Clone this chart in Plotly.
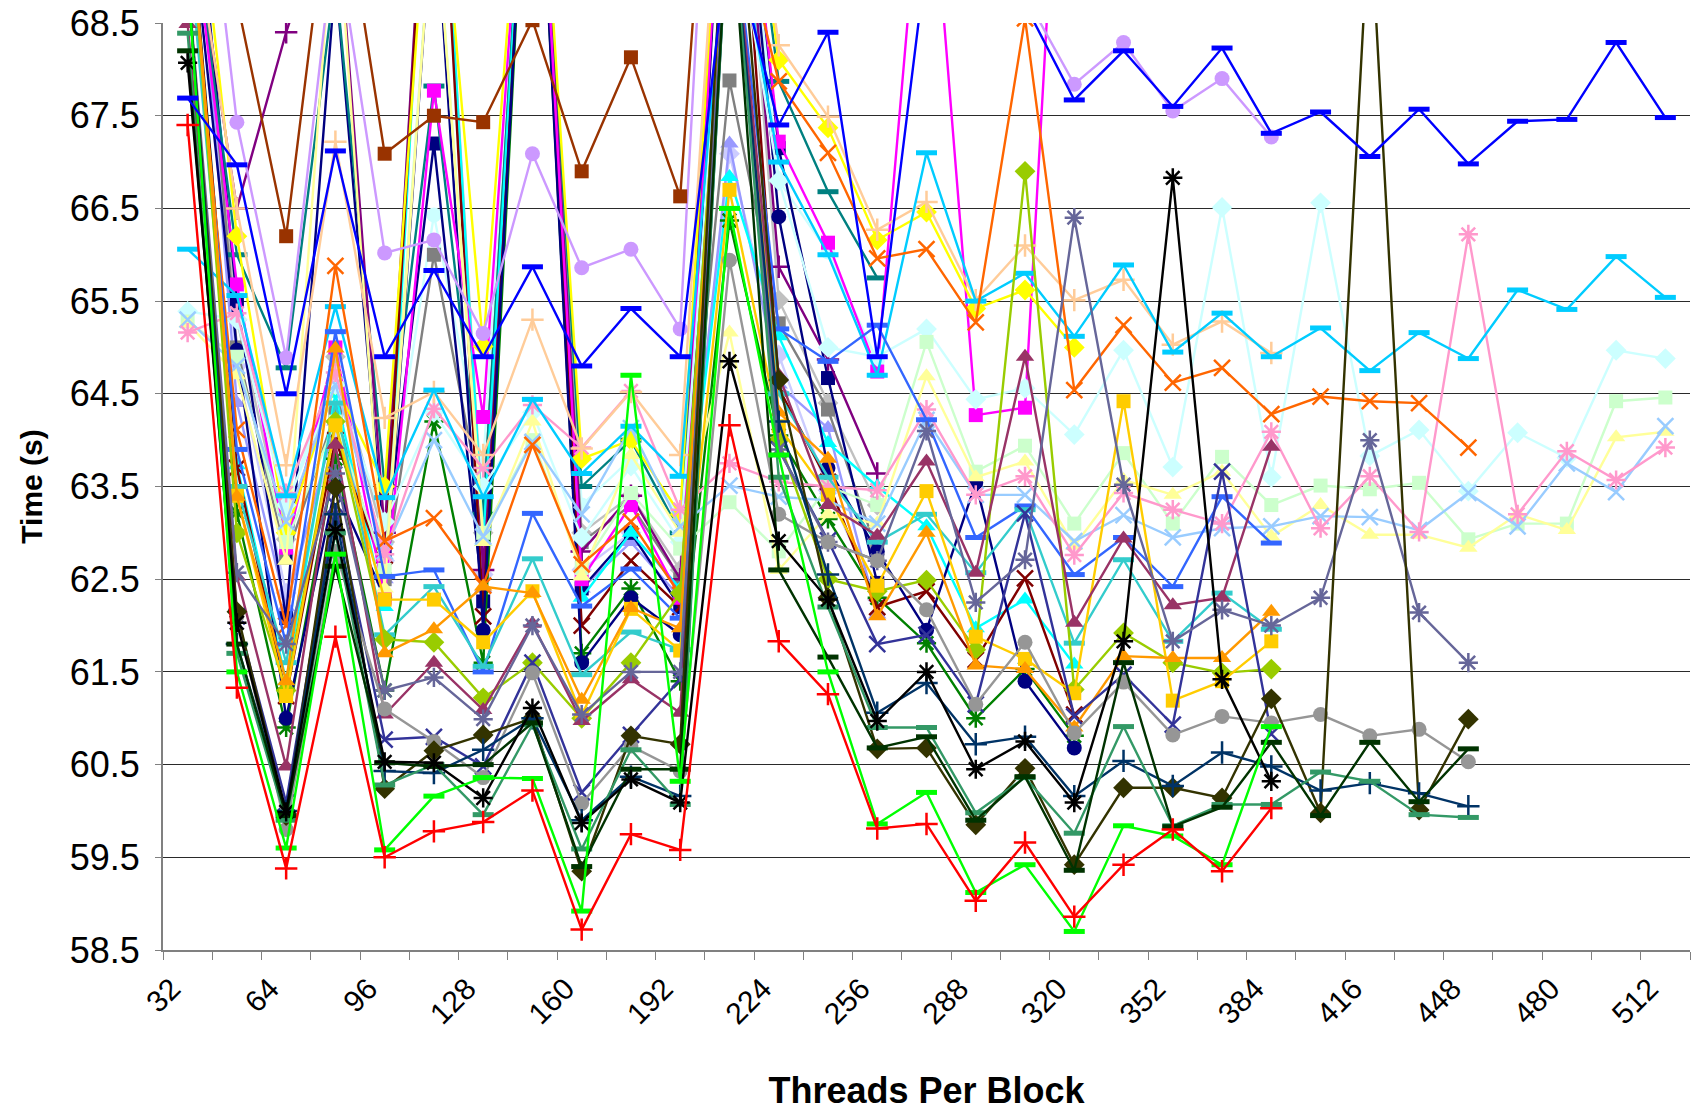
import plotly.graph_objects as go

N = None
threads = [32, 48, 64, 80, 96, 112, 128, 144, 160, 176, 192, 208, 224, 240, 256, 272,
           288, 304, 320, 336, 352, 368, 384, 400, 416, 432, 448, 464, 480, 496, 512]
x_tick_labels = [32, 64, 96, 128, 160, 192, 224, 256, 288, 320, 352, 384, 416, 448, 480, 512]
y_tick_values = [58.5, 59.5, 60.5, 61.5, 62.5, 63.5, 64.5, 65.5, 66.5, 67.5, 68.5]

# ---- series values (seconds), one list per series; None = no data ----
lightcyan_circle = [71.0, 65.6, 63.27, 64.8, 63.0, 66.43, 63.73, 72.0, 63.3, 63.8, 63.2, 72.0, 66.8, 66.03, 64.85]
silver_diamond = [71.0, 65.3, 62.93, 64.9, 62.9, 72.0, 63.0, 72.0, 63.0, 63.4, 62.6, 72.0, 65.51, 64.4, 63.3]
lavblue_diamond = [71.0, 64.8, 62.35, 64.0, 62.7, 72.0, 62.55, 72.0, 62.6, 63.0, 62.4, 67.09, 64.92, 63.46, 62.28]
periwinkle_tri = [71.0, 64.4, 62.2, 64.2, 62.5, 72.0, 62.4, 72.0, 62.4, 62.9, 62.3, 67.2, 64.6, 64.13, 62.12]
gray_square = [71.0, 65.0, 62.73, 64.3, 62.5, 66.0, 63.22, 72.0, 62.9, 63.3, 62.5, 67.88, 65.26, 64.33, 62.8]
navy_square = [71.0, 65.5, 62.08, 69.0, 62.8, 67.2, 62.26, 72.0, 62.4, 63.0, 62.2, 72.0, 67.15, 64.67, 62.46]
teal_dash = [70.0, 66.0, 64.78, 69.0, 63.5, 67.82, 63.2, 72.0, 63.5, 64.0, 63.0, 72.0, 67.87, 66.68, 65.75]
purple_plus = [70.0, 66.5, 68.4, 70.0, 63.0, 72.0, 62.6, 72.0, 62.8, 63.4, 62.5, 72.0, 65.87, 64.87, 63.64]
cyan_tri = [70.0, 63.73, 61.4, 64.5, 62.2, 72.0, 62.9, 72.0, 62.3, 63.0, 62.4, 66.84, 65.12, 63.97, 63.5,
            63.07, 61.97, 62.28, 61.58]
green_star = [70.0, 63.22, 60.9, 63.8, 61.3, 64.2, 61.6, 72.0, 61.7, 62.4, 61.4, 66.37, 64.05, 63.15, 62.3,
              61.81, 61.0, 61.53, 60.81]
maroon_x = [70.0, 63.7, 61.24, 64.0, 62.6, 72.0, 62.1, 72.0, 62.0, 62.7, 62.2, 72.0, 64.56, 63.55, 62.2,
            62.37, 61.63, 62.51, 61.04]
navy_circle = [70.0, 64.97, 61.0, 63.5, 62.3, 70.0, 61.95, 72.0, 61.6, 62.3, 61.9, 72.0, 66.41, 63.7, 62.8,
               61.95, 63.54, 61.4, 60.68]
magenta_square = [70.0, 65.68, 62.84, 65.0, 62.3, 67.77, 64.25, 72.0, 62.5, 63.3, 62.3, 72.0, 67.22, 66.13, 64.74,
                  70.87, 64.27, 64.35, 73.8]
yellow_diamond = [71.0, 66.2, 63.0, 64.6, 63.5, 71.0, 65.01, 72.0, 63.8, 64.0, 63.2, 72.0, 68.1, 67.37, 66.16,
                  66.46, 65.42, 65.62, 65.0]
lightcyan_diamond = [65.39, 65.3, 63.3, 64.6, 63.12, 64.3, 63.5, 64.3, 62.95, 63.72, 62.9, 70.0, 66.8, 65.0, 64.9,
                     65.2, 64.44, 64.56, 64.06, 64.97, 63.71, 66.51, 63.6, 66.56, 63.83, 64.11, 63.45, 64.08, 63.81,
                     64.97, 64.88]
lightgreen_square = [65.28, 64.9, 62.9, 64.2, 62.6, 70.0, 63.0, 64.0, 62.62, 63.43, 62.83, 63.33, 62.8, 63.5, 63.3,
                     65.06, 63.66, 63.94, 63.1, 63.86, 63.1, 63.82, 63.3, 63.51, 63.47, 63.54, 62.93, 63.1, 63.1,
                     64.42, 64.46]
lightyellow_tri = [65.26, 64.7, 62.7, 70.0, 62.4, 70.0, 62.9, 64.2, 62.53, 63.84, 63.0, 65.16, 62.6, 63.2, 63.1,
                   64.69, 63.6, 63.77, 62.86, 63.57, 63.41, 63.66, 62.96, 63.3, 62.98, 62.98, 62.84, 63.2, 63.03,
                   64.03, 64.09]
lightblue_x = [65.3, 64.8, 63.12, 64.6, 62.8, 64.0, 62.96, 63.98, 63.2, 64.13, 63.07, 63.51, 63.39, 63.35, 63.1,
               64.22, 63.41, 63.41, 62.91, 63.19, 62.95, 63.05, 63.07, 63.18, 63.17, 63.03, 63.43, 63.07, 63.75,
               63.44, 64.15]
pink_star = [65.16, 65.37, 63.43, 64.73, 62.77, 64.34, 63.7, 64.38, 63.92, 64.53, 63.25, 63.75, 63.55, 63.5, 63.46,
             64.33, 63.41, 63.61, 62.76, 63.43, 63.25, 63.1, 64.09, 63.05, 63.61, 63.01, 66.22, 63.2, 63.88,
             63.57, 63.92]
peach_plus = [70.0, 66.5, 63.73, 67.22, 64.24, 64.52, 63.84, 65.3, 63.91, 64.52, 63.84, 72.0, 68.26, 67.49, 66.27,
              66.57, 65.51, 66.1, 65.51, 65.73, 65.03, 65.28, 64.94]
lavender_circle = [72.0, 67.43, 64.89, 69.5, 66.02, 66.16, 65.15, 67.09, 65.86, 66.06, 65.2, 75.0, 72.0, 72.0, 72.0,
                   72.0, 72.0, 68.8, 67.84, 68.29, 67.55, 67.9, 67.27]
brown_square = [71.0, 68.75, 66.2, 70.5, 67.09, 67.5, 67.43, 68.53, 66.9, 68.13, 66.63, 74.0]
skyblue_dash = [66.06, 65.56, 63.4, 65.44, 63.38, 64.54, 63.39, 64.44, 63.64, 64.15, 63.61, 70.0, 67.0, 66.0, 64.7,
                67.1, 65.5, 65.8, 65.12, 65.89, 64.95, 65.37, 64.9, 65.21, 64.75, 65.16, 64.88, 65.62, 65.41,
                65.98, 65.54]
orangered_x = [69.5, 64.11, 62.0, 65.88, 62.91, 63.16, 62.43, 63.95, 62.66, 63.12, 62.33, 70.0, 67.87, 67.1, 65.96,
               66.06, 65.27, 68.55, 64.54, 65.24, 64.62, 64.78, 64.28, 64.47, 64.42, 64.4, 63.92]
royal_dash = [69.5, 63.9, 61.8, 65.17, 62.53, 62.6, 61.5, 63.21, 62.21, 62.61, 62.08, 70.0, 65.2, 64.85, 65.24,
              64.22, 62.95, 63.29, 62.55, 62.95, 62.42, 63.39, 62.89]
teal2_dash = [69.5, 63.5, 61.6, 64.4, 61.9, 62.42, 61.56, 62.72, 61.47, 61.93, 61.74, 70.0, 64.5, 63.6, 62.9,
              63.2, 62.57, 63.25, 61.81, 62.71, 61.83, 62.35, 61.96]
yellowgreen_diamond = [70.0, 63.0, 61.3, 64.2, 61.85, 61.82, 61.22, 61.6, 61.0, 61.6, 62.35, 70.0, 64.0, 62.5, 62.37,
                       62.49, 61.74, 66.9, 61.31, 61.92, 61.6, 61.49, 61.53]
gold_square = [70.0, 63.4, 61.24, 64.16, 62.28, 62.28, 61.82, 62.37, 61.03, 62.18, 61.73, 66.7, 64.15, 63.41, 62.43,
               63.45, 61.88, 61.64, 61.27, 64.42, 61.19, 61.4, 61.83]
orange_tri = [70.0, 63.39, 61.4, 64.99, 61.7, 61.96, 62.42, 62.35, 61.2, 62.19, 61.97, 70.0, 64.3, 63.8, 62.1,
              63.0, 61.57, 61.53, 60.9, 61.67, 61.65, 61.65, 62.15]
plum_tri = [68.49, 62.53, 60.48, 63.95, 61.04, 61.6, 61.09, 62.02, 60.97, 61.42, 61.06, 70.0, 64.7, 63.3, 62.97,
            63.77, 62.57, 64.9, 62.03, 62.94, 62.22, 62.3, 63.93]
indigo_x = [69.0, 62.1, 60.09, 63.3, 60.77, 60.8, 60.48, 61.6, 60.2, 60.82, 61.42, 70.0, 63.9, 62.92, 61.8,
            61.9, 61.15, 63.21, 61.02, 61.47, 60.93, 63.66, 60.83]
slate_star = [69.0, 62.57, 61.8, 63.64, 61.3, 61.44, 60.99, 62.0, 61.04, 61.5, 61.5, 70.0, 63.9, 62.9, 62.7,
              64.1, 62.25, 62.71, 66.4, 63.52, 61.83, 62.17, 62.0, 62.3, 64.0, 62.14, 61.6]
gray_circle = [69.0, 62.1, 59.8, 62.8, 61.1, 60.75, 60.36, 61.49, 60.08, 60.7, 60.43, 65.94, 63.2, 62.9, 62.7,
               62.17, 61.15, 61.82, 60.84, 61.39, 60.82, 61.02, 60.95, 61.04, 60.81, 60.88, 60.53]
olive_diamond = [69.0, 62.15, 59.95, 63.49, 60.24, 60.65, 60.82, 61.0, 59.35, 60.81, 60.72, 71.0, 64.65, 62.3, 60.67,
                 60.68, 59.85, 60.46, 59.42, 60.25, 60.25, 60.14, 61.21, 59.98, 69.8, 60.01, 60.99]
darkblue_plus = [69.0, 61.8, 60.0, 63.2, 60.43, 60.41, 60.66, 61.0, 59.9, 60.37, 60.16, 70.0, 64.2, 62.55, 61.06,
                 61.38, 60.72, 60.8, 60.16, 60.54, 60.27, 60.63, 60.48, 60.22, 60.3, 60.19, 60.05]
seagreen_dash = [68.39, 61.7, 59.9, 63.0, 60.28, 60.5, 59.96, 60.93, 59.59, 60.66, 60.07, 70.0, 63.6, 62.2, 60.9,
                 60.9, 59.98, 60.36, 59.76, 60.91, 59.84, 60.07, 60.07, 60.42, 60.32, 59.96, 59.93]
darkgreen_dash = [68.2, 61.8, 59.95, 62.64, 60.52, 60.48, 60.5, 60.95, 59.4, 60.45, 60.45, 70.0, 62.6, 61.66, 60.68,
                  60.8, 59.9, 60.37, 59.36, 61.6, 59.83, 60.04, 60.74, 59.95, 60.74, 60.1, 60.67]
black_star = [68.07, 62.03, 59.99, 63.03, 60.53, 60.52, 60.14, 61.11, 59.87, 60.34, 60.09, 64.85, 62.91, 62.28, 60.97,
              61.5, 60.45, 60.75, 60.09, 61.83, 66.83, 61.42, 60.32]
lime_dash = [69.0, 61.5, 59.6, 62.77, 59.58, 60.16, 60.36, 60.35, 58.92, 64.7, 60.32, 66.5, 63.84, 61.5, 59.86,
             60.2, 59.12, 59.42, 58.7, 59.84, 59.73, 59.42, 60.91]
blue_dash = [67.69, 66.97, 64.5, 67.12, 64.9, 65.83, 64.9, 65.87, 64.8, 65.42, 64.9, 69.5, 67.4, 68.4, 64.9,
             69.2, 70.5, 68.7, 67.67, 68.2, 67.6, 68.23, 67.31, 67.54, 67.06, 67.57, 66.98, 67.44, 67.46,
             68.29, 67.48]
red_plus = [67.4, 61.33, 59.38, 61.88, 59.5, 59.78, 59.88, 60.22, 58.72, 59.75, 59.58, 64.16, 61.83, 61.26, 59.81,
            59.86, 59.03, 59.66, 58.86, 59.42, 59.8, 59.35, 60.03]

# (values, colour, excel marker kind) in drawing order
series = [
    (lightcyan_circle, "#CCFFFF", "circle"),
    (silver_diamond, "#C0C0C0", "diamond"),
    (lavblue_diamond, "#CCCCFF", "diamond"),
    (periwinkle_tri, "#9999FF", "triangle"),
    (gray_square, "#808080", "square"),
    (navy_square, "#000080", "square"),
    (teal_dash, "#008080", "dash"),
    (purple_plus, "#800080", "plus"),
    (cyan_tri, "#00FFFF", "triangle"),
    (green_star, "#008000", "star"),
    (maroon_x, "#800000", "x"),
    (navy_circle, "#000080", "circle"),
    (magenta_square, "#FF00FF", "square"),
    (yellow_diamond, "#FFFF00", "diamond"),
    (lightcyan_diamond, "#CCFFFF", "diamond"),
    (lightgreen_square, "#CCFFCC", "square"),
    (lightyellow_tri, "#FFFF99", "triangle"),
    (lightblue_x, "#99CCFF", "x"),
    (pink_star, "#FF99CC", "star"),
    (peach_plus, "#FFCC99", "plus"),
    (lavender_circle, "#CC99FF", "circle"),
    (brown_square, "#993300", "square"),
    (skyblue_dash, "#00CCFF", "dash"),
    (orangered_x, "#FF6600", "x"),
    (royal_dash, "#3366FF", "dash"),
    (teal2_dash, "#33CCCC", "dash"),
    (yellowgreen_diamond, "#99CC00", "diamond"),
    (gold_square, "#FFCC00", "square"),
    (orange_tri, "#FF9900", "triangle"),
    (plum_tri, "#993366", "triangle"),
    (indigo_x, "#333399", "x"),
    (slate_star, "#666699", "star"),
    (gray_circle, "#969696", "circle"),
    (olive_diamond, "#333300", "diamond"),
    (darkblue_plus, "#003366", "plus"),
    (seagreen_dash, "#339966", "dash"),
    (darkgreen_dash, "#003300", "dash"),
    (black_star, "#000000", "star"),
    (lime_dash, "#00FF00", "dash"),
    (blue_dash, "#0000FF", "dash"),
    (red_plus, "#FF0000", "plus"),
]

MARKERS = {
    "circle": dict(symbol="circle", size=15, lw=0),
    "square": dict(symbol="square", size=14, lw=0),
    "diamond": dict(symbol="diamond", size=16, lw=0),
    "triangle": dict(symbol="triangle-up", size=16, lw=0),
    "x": dict(symbol="x-thin-open", size=16, lw=2.5),
    "star": dict(symbol="asterisk-open", size=16, lw=2.5),
    "plus": dict(symbol="cross-thin-open", size=16, lw=2.5),
    "dash": dict(symbol="line-ew-open", size=15, lw=5),
}

fig = go.Figure()
for k, (vals, col, kind) in enumerate(series):
    m = MARKERS[kind]
    fig.add_trace(go.Scatter(
        x=threads[:len(vals)], y=vals, mode="lines+markers", name=f"Series {k + 1}",
        line=dict(color=col, width=2.4),
        marker=dict(symbol=m["symbol"], size=m["size"], color=col,
                    line=dict(color=col, width=m["lw"])),
        showlegend=False, hoverinfo="x+y",
    ))

font_family = "Liberation Sans, Arial, sans-serif"
fig.update_layout(
    width=1701, height=1111,
    margin=dict(l=163, r=11, t=23, b=161),
    paper_bgcolor="white", plot_bgcolor="white",
    font=dict(family=font_family, color="black", size=28),
    showlegend=False,
)
fig.update_xaxes(
    range=[24, 520], tickmode="array", tickvals=x_tick_labels,
    ticktext=[str(v) for v in x_tick_labels], tickangle=-45, ticks="",
    tickfont=dict(size=30), ticklabelshift=-16, ticklabelstandoff=7, automargin=False,
    minor=dict(tick0=40, dtick=16, ticks="outside", ticklen=8, tickcolor="#808080", showgrid=False),
    showline=True, linecolor="#808080", linewidth=2, showgrid=False, zeroline=False,
    title=dict(text="<b>Threads Per Block</b>", font=dict(size=36), standoff=56),
)
fig.update_yaxes(
    range=[58.5, 68.5], tickmode="array", tickvals=y_tick_values,
    ticktext=[f"{v:.1f}" for v in y_tick_values], ticks="outside", ticklen=6, tickcolor="#808080",
    tickfont=dict(size=36), ticklabelstandoff=8, automargin=False,
    showline=True, linecolor="#808080", linewidth=2,
    showgrid=True, gridcolor="#2a2a2a", gridwidth=1, zeroline=False,
    title=dict(text="<b>Time (s)</b>", font=dict(size=30), standoff=18),
)
fig.write_html("out.html", config={"displayModeBar": False},
               post_script="document.body.style.margin='0px';")
